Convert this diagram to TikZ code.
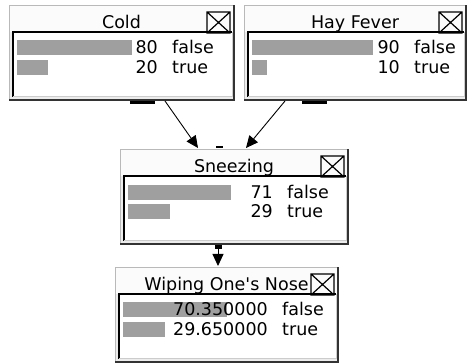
\documentclass[tikz,border=0pt]{standalone}
\usepackage{fontspec}
\setmainfont{DejaVu Sans}
\usetikzlibrary{arrows.meta}

\tikzset{
  bar/.style={fill=gray!75},
  lbl/.style={font=\fontsize{17.5}{20}\selectfont, inner sep=0pt},
  arr/.style={-{Triangle[length=12pt,width=11pt]}, line width=0.9pt},
  tab/.style={fill=black},
}

% frame of one network node: name, title, width
\newcommand{\bnframe}[3]{%
  \fill[gray!15] (0,0) rectangle (#3,95);
  \fill[gray!3] (1,1) rectangle (#3-1,27);
  \fill[white] (4,27) rectangle (#3-2,92);
  \draw[gray!55] (0,95) -- (0,0) -- (#3,0);
  \draw[black!80, line width=1.5pt] (0,95) -- (#3,95) -- (#3,0);
  \draw[black, line width=2pt] (4,92) -- (4,27) -- (#3-2,27);
  \draw[gray!40, line width=1pt] (4,92) -- (#3-2,92) -- (#3-2,27);
  \draw[black, line width=1.2pt] (#3-27,7) rectangle (#3-4,28) (#3-27,7) -- (#3-4,28) (#3-27,28) -- (#3-4,7);
  \node[lbl, anchor=base] (#1-title) at (#3/2,24) {#2};
}
% one state row: name, y, bar length, value, value right edge, state
\newcommand{\bnrow}[6]{%
  \fill[bar] (8,#2-8) rectangle ++(#3,15);
  \node[lbl, anchor=base east] (#1-val) at (#5,#2+6) {#4};
  \node[lbl, anchor=base west] (#1-state) at (#5+14,#2+6) {#6};
}

\begin{document}
\begin{tikzpicture}[x=1pt, y=-1pt]
  \useasboundingbox (0,0) rectangle (467,363);

  % Cold
  \begin{scope}[shift={(9,5)}]
    \bnframe{cold}{Cold}{225}
    \bnrow{cold-f}{43}{115}{80}{149}{false}
    \bnrow{cold-t}{63}{31}{20}{149}{true}
    \fill[tab] (121,96) rectangle (146,99);
  \end{scope}

  % Hay Fever
  \begin{scope}[shift={(244,5)}]
    \bnframe{hay}{Hay Fever}{222}
    \bnrow{hay-f}{43}{121}{90}{156}{false}
    \bnrow{hay-t}{63}{15}{10}{156}{true}
    \fill[tab] (58,96) rectangle (83,99);
  \end{scope}

  % Sneezing
  \begin{scope}[shift={(120,149)}]
    \bnframe{sneeze}{Sneezing}{228}
    \bnrow{sneeze-f}{44}{103}{71}{153}{false}
    \bnrow{sneeze-t}{63}{42}{29}{153}{true}
    \fill[tab] (96,-3) rectangle (103,-1);
    \fill[tab] (95,96) rectangle (102,100);
  \end{scope}

  % Wiping One's Nose
  \begin{scope}[shift={(115,267)}]
    \bnframe{wipe}{Wiping One\textquotesingle s Nose}{223}
    \bnrow{wipe-f}{43}{104}{70.350000}{153}{false}
    \bnrow{wipe-t}{63}{42}{29.650000}{153}{true}
  \end{scope}

  % links
  \coordinate (cold-out) at (165,101);
  \coordinate (hay-out) at (285,101);
  \coordinate (sneeze-in-a) at (198,148);
  \coordinate (sneeze-in-b) at (246,148);
  \coordinate (sneeze-out) at (218,249);
  \coordinate (wipe-in) at (218,266);
  \draw[arr] (cold-out) -- (sneeze-in-a);
  \draw[arr] (hay-out) -- (sneeze-in-b);
  \draw[arr] (sneeze-out) -- (wipe-in);
\end{tikzpicture}
\end{document}
